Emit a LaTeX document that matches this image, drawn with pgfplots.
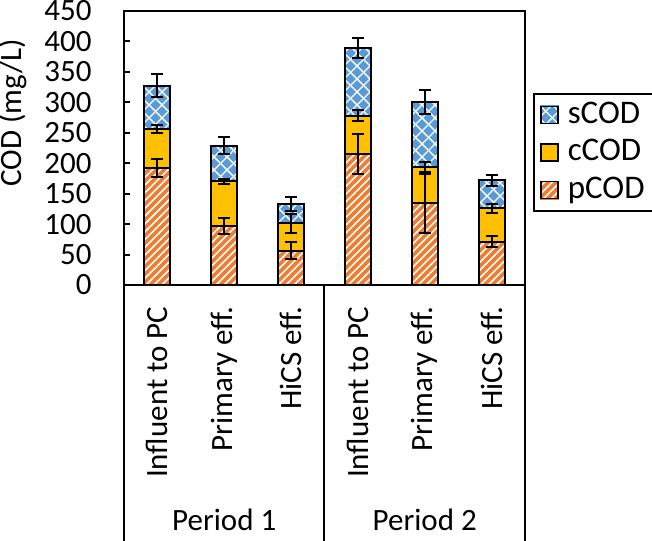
\documentclass[border=0pt]{standalone}
\usepackage{fontspec}
\setmainfont{Carlito}
\usepackage{pgfplots}
\usepackage{pgfplotstable}
\pgfplotsset{compat=1.18}
\usetikzlibrary{patterns.meta}
\definecolor{sblue}{HTML}{5B9BD5}
\definecolor{cgold}{HTML}{FFC000}
\definecolor{porange}{HTML}{ED7D31}

\tikzdeclarepattern{
  name=diagrid,
  type=uncolored,
  bounding box={(0pt,0pt) and (13pt,13pt)},
  tile size={(13pt,13pt)},
  code={
    \draw[line width=1.4pt] (-1pt,-1pt) -- (14pt,14pt);
    \draw[line width=1.4pt] (-1pt,14pt) -- (14pt,-1pt);
  }
}

% segment heights (mg/L)
\pgfplotstableread{
x p c s
0 192 64 71
1 97 73 59
2 56 45 32
3 215 63 111
4 134 60 107
5 71 55 46
}\segs

% cumulative tops and error bars
\pgfplotstableread{
x pt pe ct ce st se
0 192 15 256 6 327 19
1 97 13 170 4 229 14
2 56 14 101 16 133 11
3 215 33 278 9 389 17
4 134 48 194 8 301 20
5 71 9 126 7 172 9
}\tops

\pgfplotsset{
  common/.style={
    scale only axis, width=401pt, height=274pt,
    xmin=-0.5, xmax=5.5, ymin=0, ymax=450,
  },
  errs/.style={draw=none, forget plot,
    error bars/.cd, y dir=both, y explicit,
    error bar style={draw=black, line width=2pt, solid},
    error mark options={draw=black, rotate=90, mark size=6pt, line width=2pt, solid}},
  sqleg/.style={legend image code/.code={%
    \path[draw=none,fill=none,pattern=none] (0pt,0pt) rectangle (25pt,0.1pt);
    \fill[#1] (0pt,-8.5pt) rectangle (17pt,8.5pt);
    \draw[##1,line width=1.5pt] (0pt,-8.5pt) rectangle (17pt,8.5pt);}},
}

\begin{document}
\fontsize{31}{37}\selectfont
\begin{tikzpicture}
% layer 1: coloured bars, axis, labels
\begin{axis}[common, name=main,
  ybar stacked, bar width=26pt,
  clip=false,
  axis line style={line width=2pt},
  ytick={0,50,...,450}, ytick pos=left, tick align=inside,
  major tick length=6pt,
  tick style={line width=2pt, black},
  yticklabel style={xshift=-22pt},
  /pgf/number format/assume math mode=true,
  xtick={0,...,5}, major x tick style={draw=none},
  xticklabels={Influent to PC, Primary eff., HiCS eff., Influent to PC, Primary eff., HiCS eff.},
  xticklabel style={rotate=90, anchor=east},
  xticklabel shift=11pt,
]
\addplot[fill=porange, draw=none] table[x=x, y=p] {\segs};
\addplot[fill=cgold, draw=none] table[x=x, y=c] {\segs};
\addplot[fill=sblue, draw=none] table[x=x, y=s] {\segs};
\draw[line width=2pt] (rel axis cs:0,0) -- ++(0pt,-256pt);
\draw[line width=2pt] (rel axis cs:0.5,0) -- ++(0pt,-256pt);
\draw[line width=2pt] (rel axis cs:1,0) -- ++(0pt,-256pt);
\path (rel axis cs:0.25,0) ++(0pt,-235pt) node {Period 1};
\path (rel axis cs:0.75,0) ++(0pt,-235pt) node {Period 2};
\path (rel axis cs:0,0.628) ++(-111pt,0pt) node[rotate=90] {COD (mg/L)};
\end{axis}
% layer 2: white patterns, outlines, legend
\begin{axis}[common, hide axis,
  ybar stacked, bar width=26pt,
  legend style={at={(axis description cs:1.02,0.70)}, anchor=north west,
    draw=black, line width=1.5pt, row sep=7.5pt, inner xsep=6pt, inner ysep=6pt,
    font=\fontsize{33}{39}\selectfont},
  legend cell align=left,
  reverse legend,
]
\addplot[draw=black, line width=2pt, pattern={Lines[angle=45,distance=5.5pt,line width=1.6pt]}, pattern color=white,
  sqleg=porange] table[x=x, y=p] {\segs};
\addlegendentry{pCOD}
\addplot[draw=black, line width=2pt, fill=none, sqleg=cgold] table[x=x, y=c] {\segs};
\addlegendentry{cCOD}
\addplot[draw=black, line width=2pt, pattern=diagrid, pattern color=white,
  sqleg=sblue] table[x=x, y=s] {\segs};
\addlegendentry{sCOD}
\end{axis}
% layer 3: error bars on top
\begin{axis}[common, hide axis]
\addplot[errs] table[x=x, y=pt, y error=pe] {\tops};
\addplot[errs] table[x=x, y=ct, y error=ce] {\tops};
\addplot[errs] table[x=x, y=st, y error=se] {\tops};
\end{axis}
\pgfresetboundingbox
\path (main.south west) ++(-124pt,-255pt) rectangle ++(652pt,540pt);
\end{tikzpicture}
\end{document}
